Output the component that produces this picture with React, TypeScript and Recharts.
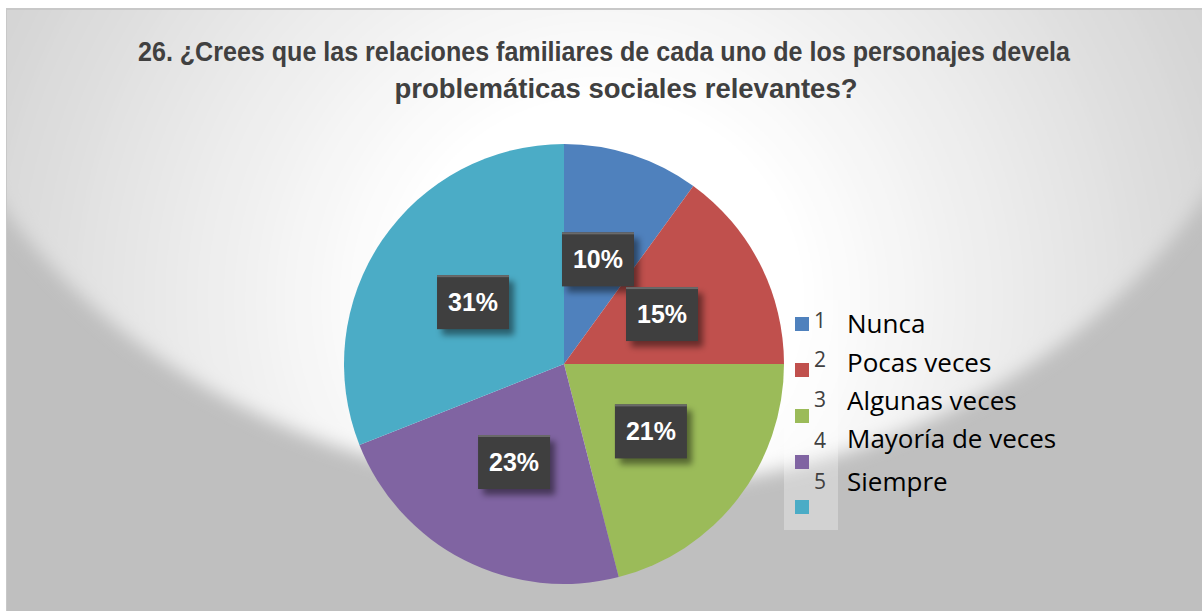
import { PieChart, Pie, Cell, Legend } from 'recharts';

const categories = ['Nunca', 'Pocas veces', 'Algunas veces', 'Mayoría de veces', 'Siempre'];
const codes = ['1', '2', '3', '4', '5'];
const percents = [10, 15, 21, 23, 31];
const colors = ['#4f81bd', '#c0504d', '#9bbb59', '#8064a2', '#4bacc6'];

const titleLines = [
    '26. ¿Crees que las relaciones familiares de cada uno de los personajes devela',
    'problemáticas sociales relevantes?',
];

const data = categories.map((name, i) => ({ name, code: codes[i], value: percents[i] }));

const RAD = Math.PI / 180;
const W = 1196;
const H = 603;

function BoxLabel(props: any) {
    const { cx, cy, midAngle, outerRadius, value, index } = props;
    const r = outerRadius * 0.5;
    const x = cx + r * Math.cos(-midAngle * RAD);
    const y = cy + r * Math.sin(-midAngle * RAD);
    const w = 72;
    const h = 54;
    const id = 'lblsh' + index;
    return (
        <g>
            <defs>
                <filter id={id} x="-30%" y="-30%" width="160%" height="160%">
                    <feGaussianBlur stdDeviation="3" />
                </filter>
            </defs>
            <rect x={x - w / 2 + 5} y={y - h / 2 + 6} width={w} height={h} fill="rgba(0,0,0,0.45)" filter={`url(#${id})`} />
            <rect x={x - w / 2} y={y - h / 2} width={w} height={h} fill="#3f3f3f" />
            <rect x={x - w / 2} y={y - h / 2} width={w} height={2} fill="#6a6a6a" />
            <text x={x} y={y + 9} textAnchor="middle" fill="#ffffff" fontFamily="Liberation Sans, Arial, sans-serif" fontWeight="bold" fontSize={25}>
                {value}%
            </text>
        </g>
    );
}

// legend: squares, numbers and names sit on slightly different rows, as in the original
function LegendBox() {
    const sqTop = [309, 355, 401, 447, 492];
    const numBase = [320, 359, 399, 440, 481];
    const txtBase = [325, 364, 402, 440, 483];
    return (
        <div style={{ position: 'absolute', left: 0, top: 0, width: W, height: H, pointerEvents: 'none' }}>
            <div style={{ position: 'absolute', left: 778, top: 292, width: 54, height: 230, background: 'rgba(255,255,255,0.3)' }} />
            {categories.map((name, i) => (
                <div key={name} style={{ position: 'absolute', left: 789, top: sqTop[i], width: 14, height: 14, background: colors[i] }} />
            ))}
            <svg style={{ position: 'absolute', left: 0, top: 0 }} width={W} height={H}>
                {categories.map((name, i) => (
                    <g key={name}>
                        <text x={808} y={numBase[i]} fill="#404040" fontFamily="Open Sans, sans-serif" fontSize={21}>{codes[i]}</text>
                        <text x={841} y={txtBase[i]} fill="#000000" fontFamily="Open Sans, sans-serif" fontSize={26}>{name}</text>
                    </g>
                ))}
            </svg>
        </div>
    );
}

function Background() {
    return (
        <svg style={{ position: 'absolute', left: 0, top: 0 }} width={W} height={H}>
            <defs>
                <radialGradient id="bgGlow" gradientUnits="userSpaceOnUse" cx={594} cy={292} r={660}>
                    <stop offset="0" stopColor="#ffffff" />
                    <stop offset="0.3" stopColor="#ffffff" />
                    <stop offset="0.55" stopColor="#f0f0f0" />
                    <stop offset="1" stopColor="#d4d4d4" />
                </radialGradient>
                <filter id="bgSoft" x="-10%" y="-10%" width="120%" height="120%">
                    <feGaussianBlur stdDeviation="9" />
                </filter>
            </defs>
            <rect x={0} y={0} width={W} height={H} fill="#bfbfbf" />
            <ellipse cx={594} cy={-108} rx={700} ry={590} fill="url(#bgGlow)" filter="url(#bgSoft)" />
            <rect x={0} y={0} width={W} height={2} fill="#c8c8c8" />
            <rect x={0} y={0} width={1} height={H} fill="#c8c8c8" />
        </svg>
    );
}

export default function App() {
    return (
        <div style={{ position: 'absolute', left: 6, top: 8, width: W, height: H, overflow: 'hidden' }}>
            <Background />
            <svg style={{ position: 'absolute', left: 0, top: 0 }} width={W} height={110}>
                <text x={598} y={53} textAnchor="middle" textLength={932} lengthAdjust="spacingAndGlyphs" fill="#404040" fontFamily="Liberation Sans, Arial, sans-serif" fontWeight="bold" fontSize={28}>
                    {titleLines[0]}
                </text>
                <text x={620} y={90} textAnchor="middle" textLength={463} lengthAdjust="spacingAndGlyphs" fill="#404040" fontFamily="Liberation Sans, Arial, sans-serif" fontWeight="bold" fontSize={28}>
                    {titleLines[1]}
                </text>
            </svg>
            <div style={{ position: 'absolute', left: 0, top: 0 }}>
                <PieChart width={W} height={H} margin={{ top: 0, right: 0, bottom: 0, left: 0 }}>
                    <Pie
                        data={data}
                        dataKey="value"
                        nameKey="name"
                        cx={558}
                        cy={356}
                        outerRadius={220}
                        startAngle={90}
                        endAngle={-270}
                        stroke="none"
                        label={BoxLabel}
                        labelLine={false}
                        isAnimationActive={false}
                    >
                        {data.map((d, i) => (
                            <Cell key={d.name} fill={colors[i]} />
                        ))}
                    </Pie>
                    <Legend content={LegendBox} wrapperStyle={{ position: 'absolute', left: 0, top: 0, width: W, height: H }} />
                </PieChart>
            </div>
        </div>
    );
}
